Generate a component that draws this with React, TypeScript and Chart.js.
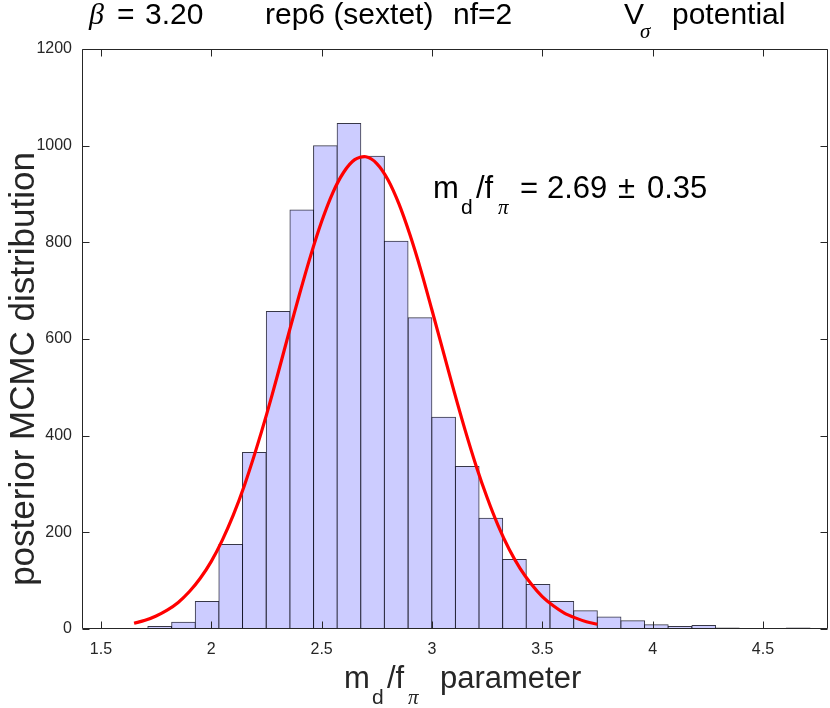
import { useEffect, useRef } from 'react';
import { Chart, registerables } from 'chart.js';

Chart.register(...registerables);

// histogram bins (centres) and counts
const binCenters = [
  1.552, 1.659, 1.766, 1.874, 1.981, 2.088, 2.195, 2.303, 2.41, 2.517,
  2.624, 2.731, 2.838, 2.946, 3.053, 3.16, 3.267, 3.374, 3.481, 3.589,
  3.696, 3.803, 3.91, 4.017, 4.124, 4.232, 4.339, 4.446, 4.553, 4.66,
];
const binCounts = [
  1, 1, 5, 14, 57, 175, 365, 657, 867, 1000,
  1046, 978, 802, 644, 438, 336, 229, 144, 92, 57,
  38, 25, 17, 9, 5, 7, 2, 0, 0, 2,
];

// red fit curve
const fitX = [
  1.65, 1.7, 1.75, 1.8, 1.85, 1.9, 1.95, 2.0, 2.05, 2.1, 2.15, 2.2, 2.25, 2.3,
  2.35, 2.4, 2.45, 2.5, 2.55, 2.6, 2.65, 2.7, 2.75, 2.8, 2.85, 2.9, 2.95, 3.0,
  3.05, 3.1, 3.15, 3.2, 3.25, 3.3, 3.35, 3.4, 3.45, 3.5, 3.55, 3.6, 3.65, 3.7, 3.75,
];
const fitY = [
  12, 18, 27, 39, 55, 77, 105, 140, 184, 236, 297, 367, 443, 525,
  610, 693, 772, 843, 902, 945, 971, 977, 963, 930, 880, 816, 742, 660,
  576, 492, 412, 338, 272, 214, 165, 125, 93, 67, 48, 33, 23, 15, 10,
];

const xTicks = [1.5, 2, 2.5, 3, 3.5, 4, 4.5];
const yTicks = [0, 200, 400, 600, 800, 1000, 1200];

const FONT = '"Liberation Sans", Arial, Helvetica, sans-serif';
const GREEK = '"Liberation Serif", "DejaVu Serif", serif';
const INK = '#262626';

type Piece = { t: string; x: number; sub?: boolean; greek?: boolean };

const titlePieces: Piece[] = [
  { t: 'β', x: 89, greek: true },
  { t: '=', x: 117 },
  { t: '3.20', x: 145 },
  { t: 'rep6 (sextet)', x: 265 },
  { t: 'nf=2', x: 453 },
  { t: 'V', x: 624 },
  { t: 'σ', x: 640, sub: true, greek: true },
  { t: 'potential', x: 672 },
];
const xLabelPieces: Piece[] = [
  { t: 'm', x: 344 },
  { t: 'd', x: 372, sub: true },
  { t: '/f', x: 387 },
  { t: 'π', x: 408, sub: true, greek: true },
  { t: 'parameter', x: 440 },
];
const notePieces: Piece[] = [
  { t: 'm', x: 433 },
  { t: 'd', x: 461, sub: true },
  { t: '/f', x: 476 },
  { t: 'π', x: 498, sub: true, greek: true },
  { t: '=', x: 520 },
  { t: '2.69', x: 547 },
  { t: '±', x: 618 },
  { t: '0.35', x: 647 },
];

const drawPieces = (ctx: CanvasRenderingContext2D, pieces: Piece[], base: number, size: number, subSize: number, subDrop: number) => {
  ctx.textAlign = 'left';
  ctx.textBaseline = 'alphabetic';
  for (const p of pieces) {
    const sz = p.sub ? subSize : size;
    ctx.font = `${p.greek ? 'italic ' : ''}${sz}px ${p.greek ? GREEK : FONT}`;
    ctx.fillText(p.t, p.x, p.sub ? base + subDrop : base);
  }
};

const decorations = {
  id: 'decorations',
  afterDatasetsDraw(chart: Chart) {
    const { ctx, chartArea: a, scales } = chart;
    const xs = scales.x;
    const ys = scales.y;
    ctx.save();
    ctx.strokeStyle = INK;
    ctx.lineWidth = 1;
    ctx.beginPath();
    const L = Math.round(a.left) + 0.5;
    const R = Math.round(a.right) - 0.5;
    const T = Math.round(a.top) + 0.5;
    const B = Math.round(a.bottom) - 0.5;
    ctx.rect(L, T, R - L, B - T);
    for (const v of xTicks) {
      const px = Math.round(xs.getPixelForValue(v)) + 0.5;
      ctx.moveTo(px, B);
      ctx.lineTo(px, B - 7);
      ctx.moveTo(px, T);
      ctx.lineTo(px, T + 7);
    }
    for (const v of yTicks) {
      const py = Math.round(ys.getPixelForValue(v)) + 0.5;
      ctx.moveTo(L, py);
      ctx.lineTo(L + 7, py);
      ctx.moveTo(R, py);
      ctx.lineTo(R - 7, py);
    }
    ctx.stroke();
    ctx.restore();
  },
  afterDraw(chart: Chart) {
    const { ctx } = chart;
    ctx.save();
    ctx.fillStyle = '#000';
    drawPieces(ctx, titlePieces, 24, 30, 21, 14);
    drawPieces(ctx, notePieces, 198, 31, 21, 16);
    ctx.fillStyle = INK;
    drawPieces(ctx, xLabelPieces, 688, 31, 21, 16);
    ctx.translate(34, 369);
    ctx.rotate(-Math.PI / 2);
    ctx.font = `35px ${FONT}`;
    ctx.textAlign = 'center';
    ctx.fillText('posterior MCMC distribution', 0, 0);
    ctx.restore();
  },
};

export default function App() {
  const canvasRef = useRef<HTMLCanvasElement>(null);

  useEffect(() => {
    if (!canvasRef.current) return;
    const chart = new Chart(canvasRef.current, {
      type: 'bar',
      data: {
        datasets: [
          {
            type: 'line',
            data: fitX.map((x, i) => ({ x, y: fitY[i] })),
            borderColor: '#ff0000',
            borderWidth: 3.2,
            pointRadius: 0,
            tension: 0.3,
            order: 0,
          },
          {
            type: 'bar',
            data: binCenters.map((x, i) => ({ x, y: binCounts[i] })),
            backgroundColor: '#ccccff',
            borderColor: 'rgba(20,20,40,0.85)',
            borderWidth: 1,
            borderSkipped: false,
            inflateAmount: 0.5,
            barPercentage: 1,
            categoryPercentage: 1,
            order: 1,
          },
        ],
      } as any,
      options: {
        animation: false,
        responsive: false,
        events: [],
        layout: { padding: { top: 49, right: 2, left: 0, bottom: 0 } },
        plugins: { legend: { display: false }, tooltip: { enabled: false } },
        scales: {
          x: {
            type: 'linear',
            offset: false,
            min: 1.414,
            max: 4.795,
            grid: { display: false, drawTicks: false },
            border: { display: false },
            afterBuildTicks: (s: any) => {
              s.ticks = xTicks.map((value) => ({ value }));
            },
            afterFit: (s: any) => {
              s.height = 79;
            },
            ticks: {
              color: INK,
              font: { family: FONT, size: 16 },
              padding: 11,
              maxRotation: 0,
              autoSkip: false,
              callback: (v: any) => String(v),
            },
          },
          y: {
            min: 0,
            max: 1200,
            grid: { display: false, drawTicks: false },
            border: { display: false },
            afterBuildTicks: (s: any) => {
              s.ticks = yTicks.map((value) => ({ value }));
            },
            afterFit: (s: any) => {
              s.width = 82;
            },
            ticks: {
              color: INK,
              font: { family: FONT, size: 16 },
              padding: 10,
              callback: (v: any) => String(v),
            },
          },
        },
      },
      plugins: [decorations],
    });
    return () => chart.destroy();
  }, []);

  return (
    <div style={{ position: 'absolute', left: 0, top: 0, width: 830, height: 708, background: '#fff' }}>
      <canvas ref={canvasRef} width={830} height={708} />
    </div>
  );
}
